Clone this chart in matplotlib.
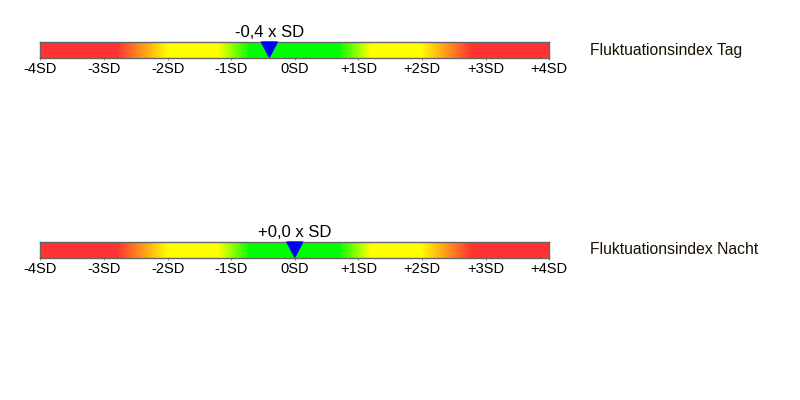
import numpy as np
import matplotlib.pyplot as plt
from matplotlib.colors import LinearSegmentedColormap

plt.rcParams["font.family"] = ["Liberation Sans", "DejaVu Sans"]

# data
titles = ["Fluktuationsindex Tag", "Fluktuationsindex Nacht"]
values = [-0.4, 0.0]
tick_pos = [-4, -3, -2, -1, 0, 1, 2, 3, 4]
tick_labels = ["-4SD", "-3SD", "-2SD", "-1SD", "0SD", "+1SD", "+2SD", "+3SD", "+4SD"]

# gradient stops (in SD) and colours
stops = [-4, -2.8, -2.0, -1.2, -0.7, 0.7, 1.2, 2.0, 2.8, 4]
stop_colors = ["#ff3333", "#ff3333", "#ffff00", "#ffff00", "#00ff00",
               "#00ff00", "#ffff00", "#ffff00", "#ff3333", "#ff3333"]

cmap = LinearSegmentedColormap.from_list(
    "sd", [((s + 4) / 8, c) for s, c in zip(stops, stop_colors)])

fig = plt.figure(figsize=(8, 4), dpi=100)

bar_bottoms = [0.855, 0.355]
for title, val, bottom in zip(titles, values, bar_bottoms):
    ax = fig.add_axes([0.0505, bottom, 0.636, 0.04])
    grad = np.linspace(-4, 4, 600).reshape(1, -1)
    ax.imshow(grad, cmap=cmap, aspect="auto", extent=[-4, 4, 0, 1],
              vmin=-4, vmax=4, interpolation="bilinear")
    ax.set_xlim(-4, 4)
    ax.set_ylim(0, 1)
    ax.set_yticks([])
    ax.set_xticks(tick_pos)
    ax.set_xticklabels(tick_labels, fontsize=10.5)
    ax.tick_params(axis="x", length=1.5, width=0.8, color="#888888", pad=1.5)
    for sp in ax.spines.values():
        sp.set_color("#666666")
        sp.set_linewidth(1)

    # marker triangle
    hw = 0.125
    ax.fill([val - hw, val + hw, val], [1, 1, 0.05], color="#0000ff",
            zorder=3, clip_on=False)
    label = ("+" if val >= 0 else "-") + f"{abs(val):.1f}".replace(".", ",") + " x SD"
    ax.text(val, 1.12, label, ha="center", va="bottom", fontsize=12)

    ax.text(1.08, 0.5, title, transform=ax.transAxes, ha="left",
            va="center", fontsize=11.3, color="#1a1100")

fig.savefig("out.png", dpi=100)
